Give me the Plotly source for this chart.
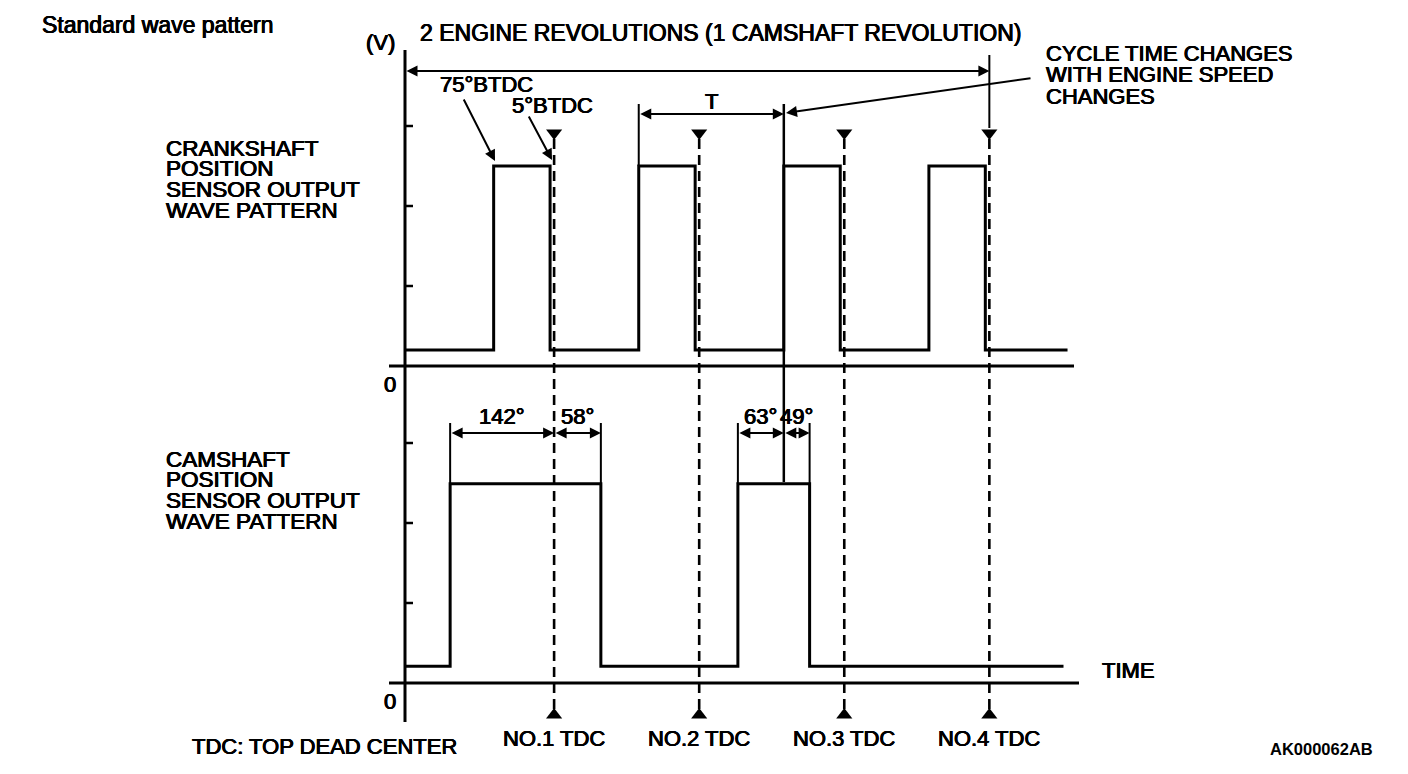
import plotly.graph_objects as go

# ---------------- data ----------------
tdc_deg = [185, 365, 545, 725]          # crank angle of No.1..No.4 TDC
tdc_labels = ["NO.1 TDC", "NO.2 TDC", "NO.3 TDC", "NO.4 TDC"]
crank_rise_btdc = 75                      # crank pulse rises 75° BTDC
crank_fall_btdc = 5                       # crank pulse falls 5° BTDC
crank_low_v = 0.2
crank_high_v = 2.5
crank_end_deg = 822
cam_rise_deg = [56, 413]
cam_fall_deg = [243, 502]
cam_low_v = 0.21
cam_high_v = 2.49
cam_end_deg = 817
cam_dim_labels = ["142°", "58°", "63°", "49°"]
volt_ticks = [1, 2, 3]

# ---------------- layout constants ----------------
PAGE_W, PAGE_H = 1408, 774
OFF = 8                                    # body margin of the html page
W, H = PAGE_W - OFF, PAGE_H - OFF
X0, SX = 405, 0.806          # page pixel of 0 deg, pixels per deg
Y0_TOP, Y0_BOT, SY = 366, 683, 80
FONT = "Liberation Sans, Arial, Helvetica, sans-serif"
HEAVY = "0.45px 0 0 #000, -0.45px 0 0 #000, 0 0.3px 0 #000"


def vt(py):  # page pixel row -> volts on top axis
    return (Y0_TOP - py) / SY


def vb(py):  # page pixel row -> volts on bottom axis
    return (Y0_BOT - py) / SY


def dpx(px):  # page pixel column -> degrees
    return (px - X0) / SX


def pxp(px):  # page pixel -> paper x
    return (px - OFF) / W


def pyp(py):  # page pixel -> paper y
    return 1 - (py - OFF) / H


fig = go.Figure()


def line(xs, ys, axis="y", width=3, dash="solid"):
    fig.add_trace(go.Scatter(x=xs, y=ys, mode="lines", yaxis=axis,
                             line=dict(color="black", width=width, dash=dash),
                             hoverinfo="skip", showlegend=False))


# crankshaft waveform
cx, cy = [0], [crank_low_v]
for t in tdc_deg:
    r, f = t - crank_rise_btdc, t - crank_fall_btdc
    cx += [r, r, f, f]
    cy += [crank_low_v, crank_high_v, crank_high_v, crank_low_v]
cx.append(crank_end_deg)
cy.append(crank_low_v)
line(cx, cy, "y", 3)

# camshaft waveform
mx, my = [0], [cam_low_v]
for r, f in zip(cam_rise_deg, cam_fall_deg):
    mx += [r, r, f, f]
    my += [cam_low_v, cam_high_v, cam_high_v, cam_low_v]
mx.append(cam_end_deg)
my.append(cam_low_v)
line(mx, my, "y2", 3)

# zero lines
line([dpx(389), dpx(1074)], [0, 0], "y", 3)
line([dpx(389), dpx(1079)], [0, 0], "y2", 3)
# vertical axis
line([0, 0], [vt(50), vt(722)], "y", 3)
# ticks
for v in volt_ticks:
    line([0, dpx(413)], [v, v], "y", 2.5)
    line([0, dpx(413)], [v, v], "y2", 2.5)

# TDC dashed lines + triangles
for t in tdc_deg:
    line([t, t], [vt(139), vt(712)], "y", 2.6, "10px,6px")
fig.add_trace(go.Scatter(x=tdc_deg, y=[vt(133)] * 4, mode="markers", yaxis="y",
                         marker=dict(symbol="triangle-down", size=14, color="black"),
                         hoverinfo="skip", showlegend=False))
fig.add_trace(go.Scatter(x=tdc_deg, y=[vt(715)] * 4, mode="markers", yaxis="y",
                         marker=dict(symbol="triangle-up", size=14, color="black"),
                         hoverinfo="skip", showlegend=False))

# extension lines
crank_rises = [t - crank_rise_btdc for t in tdc_deg]
line([tdc_deg[3]] * 2, [vt(55), vt(128)], "y", 2)                 # 2 rev end
line([crank_rises[1]] * 2, [vt(104), crank_high_v], "y", 2)        # T start
line([crank_rises[2]] * 2, [vt(104), vt(482)], "y", 2.5)           # T end / ref line
for e in cam_rise_deg + cam_fall_deg:
    line([e, e], [vb(423), cam_high_v], "y2", 2)

annotations = []


def dim(x0, x1, yv, yref):
    annotations.append(dict(x=x1, y=yv, ax=x0, ay=yv, xref="x", yref=yref,
                            axref="x", ayref=yref, text="", showarrow=True,
                            arrowhead=2, startarrowhead=2, arrowside="end+start",
                            arrowsize=1.1, startarrowsize=1.1, arrowwidth=2,
                            arrowcolor="black", standoff=0, startstandoff=0))


dim(0, tdc_deg[3], vt(71), "y")
dim(crank_rises[1], crank_rises[2], vt(114), "y")
dim(cam_rise_deg[0], tdc_deg[0], vb(433), "y2")
dim(tdc_deg[0], cam_fall_deg[0], vb(433), "y2")
dim(cam_rise_deg[1], crank_rises[2], vb(433), "y2")
dim(crank_rises[2], cam_fall_deg[1], vb(433), "y2")


def leader(hx, hy, tx, ty):
    annotations.append(dict(x=pxp(hx), y=pyp(hy), xref="paper", yref="paper",
                            ax=tx - hx, ay=ty - hy, text="", showarrow=True,
                            arrowhead=2, arrowsize=1.1, arrowwidth=2,
                            arrowcolor="black", standoff=0))


leader(495, 161, 463, 98)
leader(552, 160, 528, 115)
leader(786, 113, 1032, 78)


def txt(s, px, py, anchor="left", size=22, bold=False, xdata=None):
    font = dict(family=FONT, size=size, color="black")
    if not bold:
        font["shadow"] = HEAVY
    d = dict(text=("<b>%s</b>" % s) if bold else s, showarrow=False,
             xanchor=anchor, yanchor="middle", yref="paper", y=pyp(py), font=font)
    if xdata is None:
        d.update(xref="paper", x=pxp(px))
    else:
        d.update(xref="x", x=xdata)
    annotations.append(d)


txt("Standard wave pattern", 40, 25, size=23)
txt("(V)", 364, 43)
txt("2 ENGINE REVOLUTIONS (1 CAMSHAFT REVOLUTION)", 418, 33, size=23)
txt("75°BTDC", 438, 84)
txt("5°BTDC", 510, 105)
txt("T", 0, 101, anchor="center", xdata=(crank_rises[1] + crank_rises[2]) / 2)
for i, s in enumerate(["CRANKSHAFT", "POSITION", "SENSOR OUTPUT", "WAVE PATTERN"]):
    txt(s, 164, 148 + i * 20.7, size=22.5)
for i, s in enumerate(["CAMSHAFT", "POSITION", "SENSOR OUTPUT", "WAVE PATTERN"]):
    txt(s, 164, 459 + i * 20.7, size=22.5)
for i, s in enumerate(["CYCLE TIME CHANGES", "WITH ENGINE SPEED", "CHANGES"]):
    txt(s, 1044, 53 + i * 21.5)
txt("0", 390, 384, anchor="center")
txt("0", 390, 701, anchor="center")
dim_mids = [(cam_rise_deg[0] + tdc_deg[0]) / 2, (tdc_deg[0] + cam_fall_deg[0]) / 2,
            (cam_rise_deg[1] + crank_rises[2]) / 2, (crank_rises[2] + cam_fall_deg[1]) / 2]
for s, m in zip(cam_dim_labels, dim_mids):
    txt(s, 0, 416, anchor="center", xdata=m)
txt("TIME", 1100, 670)
for t, s in zip(tdc_deg, tdc_labels):
    txt(s, 0, 738, anchor="center", xdata=t)
txt("TDC: TOP DEAD CENTER", 190, 746)
txt("AK000062AB", 1268, 749, size=16.5, bold=True)

fig.update_layout(
    width=W, height=H, margin=dict(l=0, r=0, t=0, b=0),
    paper_bgcolor="white", plot_bgcolor="white", showlegend=False,
    xaxis=dict(range=[dpx(OFF), dpx(PAGE_W)], visible=False, fixedrange=True),
    yaxis=dict(range=[vt(PAGE_H), vt(OFF)], visible=False, fixedrange=True),
    yaxis2=dict(range=[vb(PAGE_H), vb(OFF)], visible=False, overlaying="y", fixedrange=True),
    annotations=annotations,
)

fig.write_html("out.html")
